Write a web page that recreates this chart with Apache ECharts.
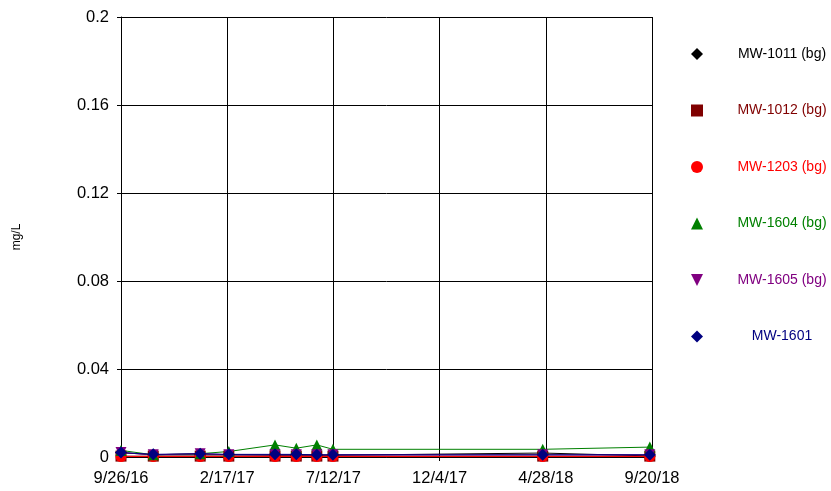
<!DOCTYPE html>
<html><head><meta charset="utf-8">
<script src="https://cdn.jsdelivr.net/npm/echarts@6/dist/echarts.min.js"></script>
<style>html,body{margin:0;padding:0;background:#fff}#c{width:831px;height:491px}</style>
</head><body><div id="c"></div>
<script>
const dates = ['2016-09-26','2016-11-09','2017-01-12','2017-02-20','2017-04-24','2017-05-23','2017-06-20','2017-07-12','2018-04-24','2018-09-17'];
const mw1011 = [0.002,0.001,0.001,0.001,0.0008,0.0008,0.0008,0.0008,0.0018,0.0005];
const mw1012 = [0.0004,0.0004,0.0004,0.0004,0.0004,0.0004,0.0004,0.0004,0.0004,0.0004];
const mw1203 = [0.0002,0.0002,0.0002,0.0002,0.0002,0.0002,0.0002,0.0002,0.0002,0.0002];
const mw1604 = [0.003,0.001,0.0015,0.0025,0.0055,0.004,0.0055,0.0035,0.0035,0.0045];
const mw1605 = [0.002,0.001,0.0015,0.001,0.001,0.001,0.001,0.001,0.001,0.001];
const mw1601 = [0.002,0.0012,0.0015,0.0012,0.0012,0.0012,0.001,0.001,0.001,0.001];
const startDate = '2016-09-26';
const endDate = '2018-09-20';
const yTicks = [0,0.04,0.08,0.12,0.16,0.2];

const DAY = 86400000;
const t0 = Date.parse(startDate);
const dayOf = s => Math.round((Date.parse(s) - t0) / DAY);
const span = dayOf(endDate);
const fmt = v => { const d = new Date(t0 + Math.floor(v + 1e-6) * DAY); return (d.getUTCMonth()+1) + '/' + d.getUTCDate() + '/' + String(d.getUTCFullYear()).slice(2); };

const tri = 'path://M5,0 L10,10 L0,10 Z';
const triDown = 'path://M0,0 L10,0 L5,10 Z';
const defs = [
  {name:'MW-1011 (bg)', data:mw1011, color:'#000000', symbol:'diamond', size:12, text:'#000000'},
  {name:'MW-1012 (bg)', data:mw1012, color:'#800000', symbol:'rect', size:11, text:'#800000'},
  {name:'MW-1203 (bg)', data:mw1203, color:'#ff0000', symbol:'circle', size:11, text:'#ff0000'},
  {name:'MW-1604 (bg)', data:mw1604, color:'#008000', symbol:tri, size:11, text:'#008000'},
  {name:'MW-1605 (bg)', data:mw1605, color:'#800080', symbol:triDown, size:11, text:'#800080'},
  {name:'MW-1601', data:mw1601, color:'#000080', symbol:'diamond', size:12, text:'#000080'}
];
const FONT = '"Liberation Sans", Arial, sans-serif';
const chart = echarts.init(document.getElementById('c'), null, {renderer:'canvas'});
chart.setOption({
  animation:false,
  backgroundColor:'#fff',
  grid:{left:121, right:179, top:17, bottom:34, containLabel:false},
  legend:{
    orient:'vertical', left:691, top:47, padding:0, itemGap:42.5, itemWidth:12, itemHeight:12,
    data: defs.map(d => ({name:d.name, icon:d.symbol, itemStyle:{color:d.color}, textStyle:{color:d.text}})),
    formatter: n => '{a|' + n + '}',
    textStyle:{fontFamily:FONT, fontSize:14, rich:{a:{width:148, lineHeight:16, align:'center', fontFamily:FONT, fontSize:14}}}
  },
  xAxis:{
    type:'value', min:0, max:span, interval:span/5,
    axisLine:{lineStyle:{color:'#000', width:1}}, axisTick:{show:true, length:4, lineStyle:{color:'#000'}},
    axisLabel:{formatter:fmt, color:'#000', fontFamily:FONT, fontSize:16.5, margin:13, showMaxLabel:true, showMinLabel:true},
    splitLine:{show:true, lineStyle:{color:'#000', width:1}}
  },
  yAxis:{
    type:'value', min:yTicks[0], max:yTicks[yTicks.length-1], interval:yTicks[1]-yTicks[0],
    name:'mg/L', nameLocation:'middle', nameGap:98, nameRotate:90,
    nameTextStyle:{fontFamily:FONT, fontSize:12, color:'#000'},
    axisLine:{show:true, lineStyle:{color:'#000', width:1}}, axisTick:{show:true, length:4, lineStyle:{color:'#000'}},
    axisLabel:{color:'#000', fontFamily:FONT, fontSize:16.5, margin:12},
    splitLine:{show:true, lineStyle:{color:'#000', width:1}}
  },
  series: defs.map(d => ({
    name:d.name, type:'line', symbol:d.symbol, symbolSize:d.size,
    itemStyle:{color:d.color}, lineStyle:{color:d.color, width:1},
    data: dates.map((s,i) => [dayOf(s), d.data[i]]),
    clip:false
  }))
});
</script></body></html>
